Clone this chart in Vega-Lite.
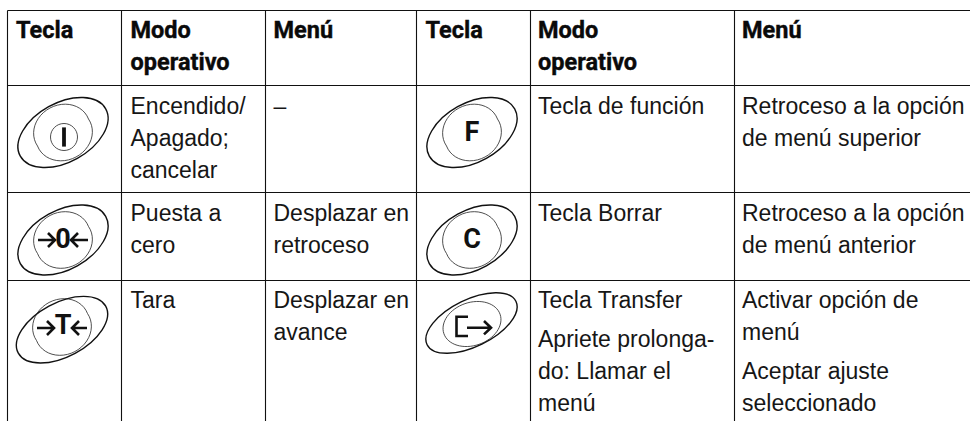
{
"$schema":"https://vega.github.io/schema/vega-lite/v6.json",
"width":972,"height":421,"padding":0,"autosize":{"type":"none"},"background":"white",
"config":{"view":{"stroke":null}},
"resolve":{"scale":{"shape":"independent"}},
"datasets":{
"hrules":[{"col":0,"col2":14,"lvl":0},{"col":0,"col2":14,"lvl":3},{"col":0,"col2":14,"lvl":8},{"col":0,"col2":14,"lvl":12}],
"vrules":[{"col":0,"lvl":0,"lvl2":19},{"col":3,"lvl":0,"lvl2":19},{"col":5,"lvl":0,"lvl2":19},{"col":7,"lvl":0,"lvl2":19},{"col":10,"lvl":0,"lvl2":19},{"col":12,"lvl":0,"lvl2":19}],
"heads":[{"col":1,"lvl":1,"t":"Tecla"},{"col":4,"lvl":1,"t":"Modo"},{"col":4,"lvl":2,"t":"operativo"},{"col":6,"lvl":1,"t":"Menú"},{"col":8,"lvl":1,"t":"Tecla"},{"col":11,"lvl":1,"t":"Modo"},{"col":11,"lvl":2,"t":"operativo"},{"col":13,"lvl":1,"t":"Menú"}],
"body":[
{"col":4,"lvl":4,"t":"Encendido/"},{"col":4,"lvl":6,"t":"Apagado;"},{"col":4,"lvl":7,"t":"cancelar"},{"col":6,"lvl":4,"t":"–"},
{"col":11,"lvl":4,"t":"Tecla de función"},{"col":13,"lvl":4,"t":"Retroceso a la opción"},{"col":13,"lvl":6,"t":"de menú superior"},
{"col":4,"lvl":9,"t":"Puesta a"},{"col":4,"lvl":11,"t":"cero"},{"col":6,"lvl":9,"t":"Desplazar en"},{"col":6,"lvl":11,"t":"retroceso"},
{"col":11,"lvl":9,"t":"Tecla Borrar"},{"col":13,"lvl":9,"t":"Retroceso a la opción"},{"col":13,"lvl":11,"t":"de menú anterior"},
{"col":4,"lvl":13,"t":"Tara"},{"col":6,"lvl":13,"t":"Desplazar en"},{"col":6,"lvl":15,"t":"avance"},
{"col":11,"lvl":13,"t":"Tecla Transfer"},{"col":11,"lvl":16,"t":"Apriete prolonga-"},{"col":11,"lvl":17,"t":"do: Llamar el"},{"col":11,"lvl":18,"t":"menú"},
{"col":13,"lvl":13,"t":"Activar opción de"},{"col":13,"lvl":15,"t":"menú"},{"col":13,"lvl":17,"t":"Aceptar ajuste"},{"col":13,"lvl":18,"t":"seleccionado"}],
"keys":[
{"col":2,"lvl":5,"outer":"std","inner":"power"},
{"col":2,"lvl":10,"outer":"std","inner":"std"},
{"col":2,"lvl":14,"outer":"tara","inner":"tara"},
{"col":9,"lvl":5,"outer":"std","inner":"std"},
{"col":9,"lvl":10,"outer":"std","inner":"std"},
{"col":9,"lvl":14,"outer":"transfer","inner":"transfer"}],
"glyphs":[
{"col":2,"lvl":5,"g":"bar"},{"col":2,"lvl":10,"g":"zero"},{"col":2,"lvl":14,"g":"tara"},{"col":9,"lvl":14,"g":"transfer"}],
"letters":[
{"col":2,"lvl":10,"t":"0"},{"col":2,"lvl":14,"t":"T"},{"col":9,"lvl":5,"t":"F"},{"col":9,"lvl":10,"t":"C"}]
},
"encoding":{
"x":{"field":"col","type":"quantitative","axis":null,"scale":{"domain":[0,1,2,3,4,5,6,7,8,9,10,11,12,13,14],"range":[7.5,16,63,121.5,130.5,265.5,273.5,416.5,425.5,472,530.5,538,734.5,742,970],"nice":false,"zero":false}},
"y":{"field":"lvl","type":"quantitative","axis":null,"scale":{"domain":[0,1,2,3,4,5,6,7,8,9,10,11,12,13,14,15,16,17,18,19],"range":[10.5,38,70,85.5,114,132.5,146,178,192.5,221,240,253,280.5,308,326,340,347,379,411,421],"nice":false,"zero":false}}
},
"layer":[
{"data":{"name":"hrules"},"mark":{"type":"rule","stroke":"#111","strokeWidth":1.1},"encoding":{"x2":{"field":"col2"}}},
{"data":{"name":"vrules"},"mark":{"type":"rule","stroke":"#111","strokeWidth":1.1},"encoding":{"y2":{"field":"lvl2"}}},
{"data":{"name":"heads"},"mark":{"type":"text","font":"Roboto","fontWeight":"bold","fontSize":23.5,"align":"left","baseline":"alphabetic","fill":"#0a0a0a","stroke":"#0a0a0a","strokeWidth":0.4},"encoding":{"text":{"field":"t"}}},
{"data":{"name":"body"},"mark":{"type":"text","font":"Liberation Sans","fontSize":23,"align":"left","baseline":"alphabetic","fill":"#161616"},"encoding":{"text":{"field":"t"}}},
{"data":{"name":"keys"},"mark":{"type":"point","filled":false,"size":4,"stroke":"#111","strokeWidth":1.4,"opacity":1},"encoding":{"shape":{"field":"outer","type":"nominal","legend":null,"scale":{"domain":["std","tara","transfer"],"range":["M-42.7,23.7A48.8,29.5,-29,1,1,42.7,-23.7A48.8,29.5,-29,1,1,-42.7,23.7Z","M-44.7,27.2A49.6,27,-28,1,1,42.7,-19.8A49.6,27,-28,1,1,-44.7,27.2Z","M-44.9,18.7A49.4,23.5,-26,1,1,43.9,-24.7A49.4,23.5,-26,1,1,-44.9,18.7Z"]}}}},
{"data":{"name":"keys"},"mark":{"type":"point","filled":false,"size":4,"stroke":"#222","strokeWidth":0.8,"opacity":1},"encoding":{"shape":{"field":"inner","type":"nominal","legend":null,"scale":{"domain":["std","power","tara","transfer"],"range":["M-25.5,13.5A29,25.2,-28,1,1,25.5,-13.5A29,25.2,-28,1,1,-25.5,13.5Z","M-25.5,13.5A29,25.2,-28,1,1,25.5,-13.5A29,25.2,-28,1,1,-25.5,13.5ZM14.5,4.5A13.5,13.5,0,1,1,-12.5,4.5A13.5,13.5,0,1,1,14.5,4.5Z","M-26.5,14.5A29,25.2,-28,1,1,24.5,-12.5A29,25.2,-28,1,1,-26.5,14.5Z","M-28.1,7.7A29.7,21.5,-19,1,1,28.1,-11.7A29.7,21.5,-19,1,1,-28.1,7.7Z"]}}}},
{"data":{"name":"glyphs"},"mark":{"type":"point","filled":false,"size":4,"stroke":"#111","strokeWidth":2.6,"opacity":1},"encoding":{"shape":{"field":"g","type":"nominal","legend":null,"scale":{"domain":["bar","zero","tara","transfer"],"range":["M0.4,-3.8H1.6V12.8H0.4Z","M-25,0H-9M-15,-7L-8,0L-15,7M25,0H9M15,-7L8,0L15,7","M-26,2H-9M-16,-5L-9,2L-16,9M24,2H10M16,-5L9,2L16,9","M-4,-9.3H-15.5V10H-4M-5,1.7H18M12,-5L19,1.7L12,8.4"]}}}},
{"data":{"name":"letters"},"mark":{"type":"text","font":"Roboto","fontWeight":"bold","fontSize":27,"align":"center","baseline":"middle","fill":"#111"},"encoding":{"text":{"field":"t"}}}
]
}
